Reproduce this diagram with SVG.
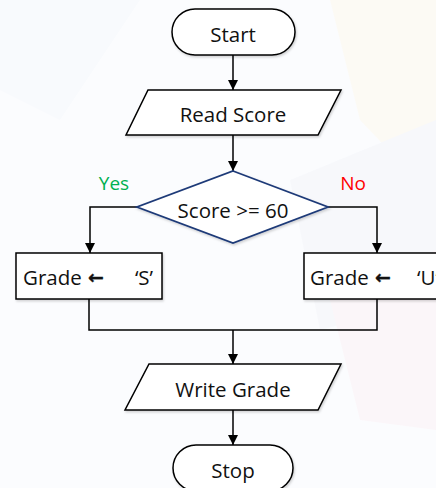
<svg xmlns="http://www.w3.org/2000/svg" width="436" height="488" viewBox="0 0 436 488">
  <defs>
    <style>
      .shape { fill: #ffffff; stroke: #000000; stroke-width: 1.5; }
      .decision { fill: #ffffff; stroke: #1f3a78; stroke-width: 1.8; }
      .label { font-family: "Open Sans", "Noto Sans", "DejaVu Sans", sans-serif; font-size: 20.5px; fill: #111111; dominant-baseline: central; }
      .mid { text-anchor: middle; }
      .left { text-anchor: start; }
      .arrowglyph { font-family: "DejaVu Sans", sans-serif; font-weight: bold; font-size: 19px; stroke: #111111; stroke-width: 0.3; }
      .branch { font-family: "Open Sans", "Noto Sans", sans-serif; font-size: 19px; text-anchor: middle; dominant-baseline: central; }
      .wire { fill: none; stroke: #000000; stroke-width: 1.5; }
    </style>
    <marker id="arrow" viewBox="0 0 10 10" refX="10" refY="5" markerWidth="10" markerHeight="10" markerUnits="userSpaceOnUse" orient="auto">
      <path d="M0,0 L10,5 L0,10 Z" fill="#000000"/>
    </marker>
    <filter id="soft" x="-10%" y="-10%" width="120%" height="130%">
      <feDropShadow dx="1" dy="1.5" stdDeviation="1.2" flood-color="#000000" flood-opacity="0.18"/>
    </filter>
  </defs>

  <!-- backdrop with faint tinted panels -->
  <rect width="436" height="488" fill="#fbfcfe"/>
  <g opacity="0.3">
    <polygon points="330,0 436,0 436,200 360,120" fill="#fff6e0"/>
    <polygon points="290,180 436,120 436,300 320,330" fill="#eef1f7"/>
    <polygon points="330,300 436,250 436,430 360,420" fill="#fde9ee"/>
    <polygon points="0,0 140,0 60,120 0,90" fill="#f2f6fb"/>
  </g>

  <!-- connectors -->
  <g id="connectors">
    <line class="wire" x1="233" y1="55" x2="233" y2="90" marker-end="url(#arrow)"/>
    <line class="wire" x1="233" y1="135" x2="233" y2="171" marker-end="url(#arrow)"/>
    <polyline class="wire" points="137,207 90,207 90,253" marker-end="url(#arrow)"/>
    <polyline class="wire" points="328,207 377,207 377,253" marker-end="url(#arrow)"/>
    <polyline class="wire" points="89,299 89,330 377,330 377,299"/>
    <line class="wire" x1="233" y1="330" x2="233" y2="364" marker-end="url(#arrow)"/>
    <line class="wire" x1="233" y1="410" x2="233" y2="445" marker-end="url(#arrow)"/>
  </g>

  <g id="start">
    <rect class="shape" x="172" y="9" width="123" height="46" rx="23" filter="url(#soft)"/>
    <text class="label mid" x="233" y="34">Start</text>
  </g>

  <g id="read-score">
    <polygon class="shape" points="148,90 341,90 318,135 126,135" filter="url(#soft)"/>
    <text class="label mid" x="233" y="114">Read Score</text>
  </g>

  <g id="decision">
    <polygon class="decision" points="233,171 328,207 233,243 137,207" filter="url(#soft)"/>
    <text class="label mid" x="233" y="210">Score &gt;= 60</text>
    <text class="branch" x="114" y="183" fill="#00b050">Yes</text>
    <text class="branch" x="353" y="183" fill="#ff0000">No</text>
  </g>

  <g id="grade-s">
    <rect class="shape" x="16" y="253" width="146" height="46" filter="url(#soft)"/>
    <text class="label left" x="23" y="277">Grade</text>
    <text class="label left arrowglyph" x="88" y="277">←</text>
    <text class="label mid" x="144" y="277">‘S’</text>
  </g>

  <g id="grade-u">
    <rect class="shape" x="304" y="253" width="150" height="46" filter="url(#soft)"/>
    <text class="label left" x="310" y="277">Grade</text>
    <text class="label left arrowglyph" x="375" y="277">←</text>
    <text class="label left" x="417" y="277">‘U’</text>
  </g>

  <g id="write-grade">
    <polygon class="shape" points="149,364 341,364 318,410 125,410" filter="url(#soft)"/>
    <text class="label mid" x="233" y="389">Write Grade</text>
  </g>

  <g id="stop">
    <rect class="shape" x="173" y="445" width="120" height="46" rx="23" filter="url(#soft)"/>
    <text class="label mid" x="233" y="470">Stop</text>
  </g>
</svg>
